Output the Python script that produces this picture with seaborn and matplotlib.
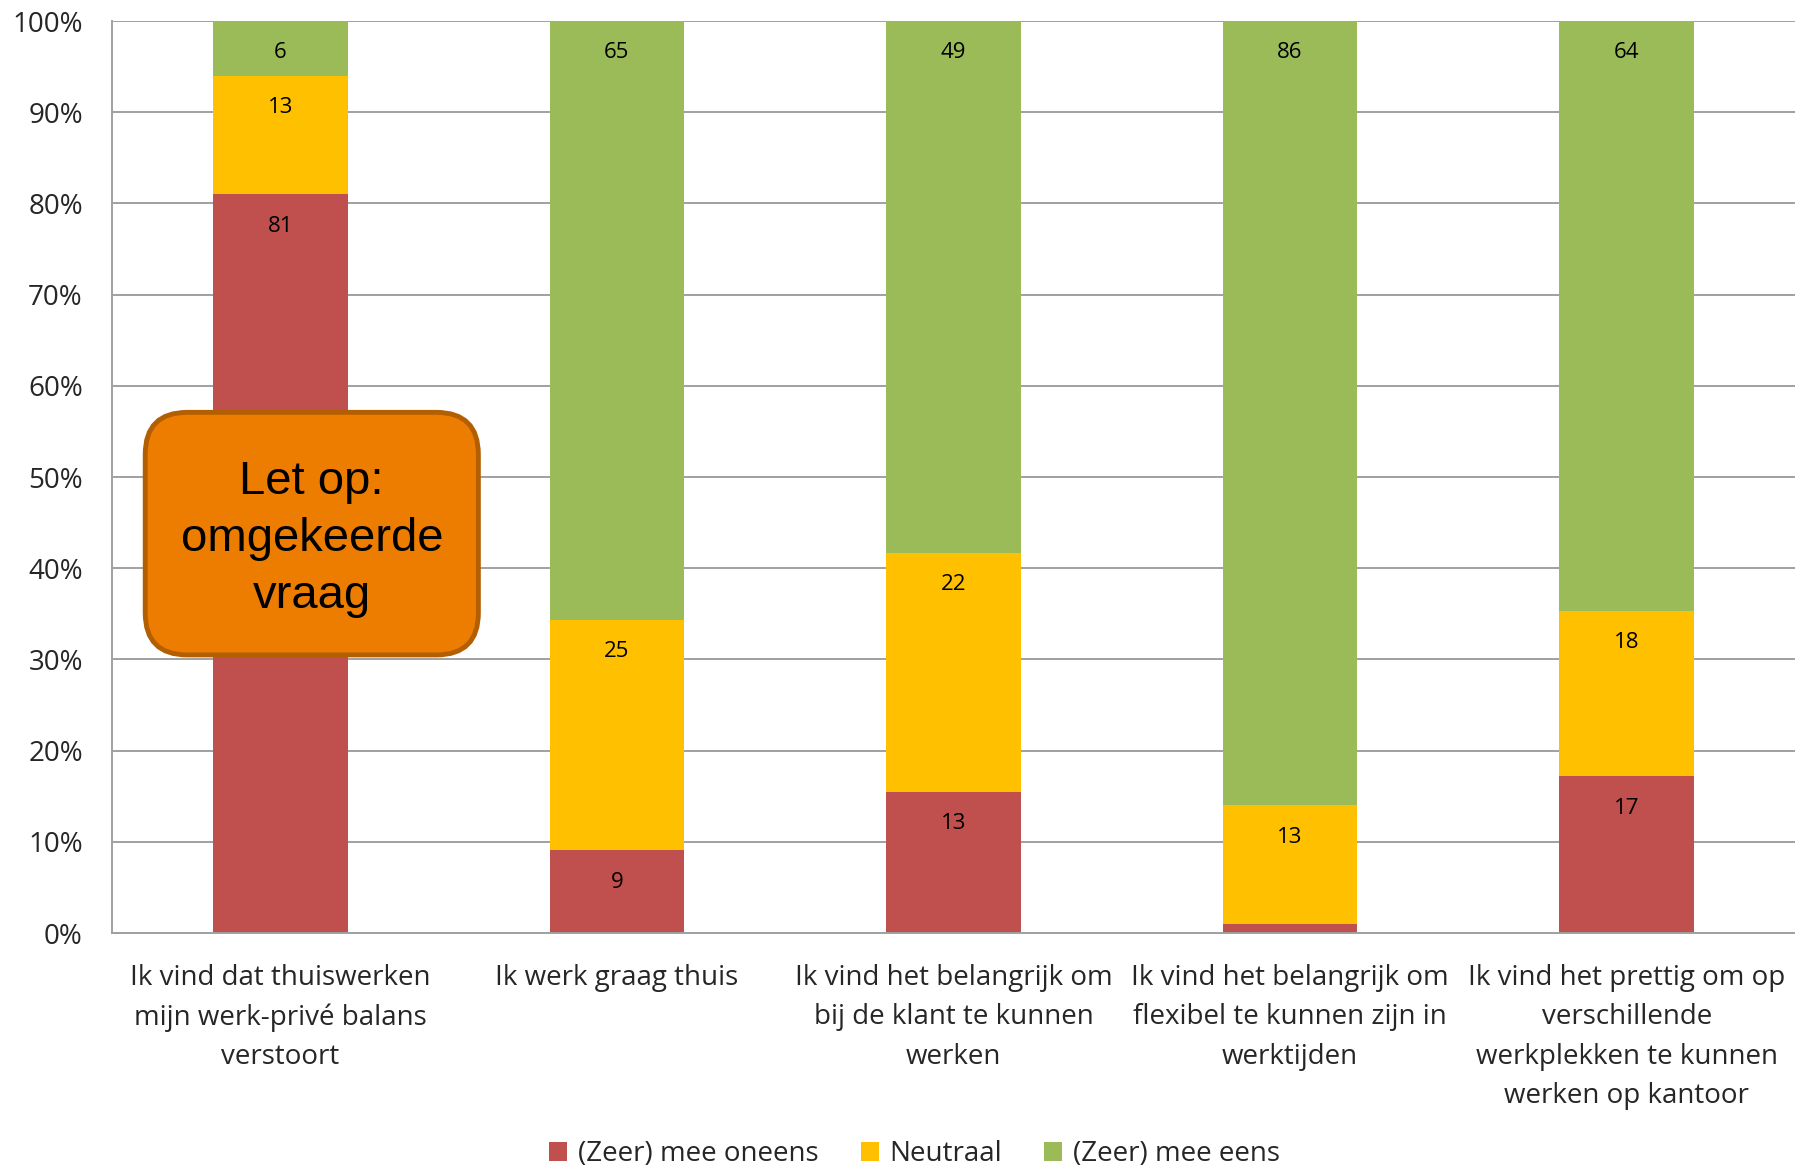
import numpy as np
import pandas as pd
import matplotlib
matplotlib.use("Agg")
import matplotlib.pyplot as plt
import seaborn as sns
from matplotlib.patches import FancyBboxPatch, Patch
from matplotlib.ticker import PercentFormatter, FixedLocator

categories = [
    "Ik vind dat thuiswerken\nmijn werk-privé balans\nverstoort",
    "Ik werk graag thuis",
    "Ik vind het belangrijk om\nbij de klant te kunnen\nwerken",
    "Ik vind het belangrijk om\nflexibel te kunnen zijn in\nwerktijden",
    "Ik vind het prettig om op\nverschillende\nwerkplekken te kunnen\nwerken op kantoor",
]
oneens = [81, 9, 13, 1, 17]
neutraal = [13, 25, 22, 13, 18]
eens = [6, 65, 49, 86, 64]
series_names = ["(Zeer) mee oneens", "Neutraal", "(Zeer) mee eens"]
colors = ["#C0504D", "#FFC000", "#9BBB59"]

sns.set_theme(style="white")
plt.rcParams["font.family"] = ["Open Sans", "DejaVu Sans"]

vals = np.array([oneens, neutraal, eens], dtype=float)
totals = vals.sum(axis=0)
pct = vals / totals * 100
cum = np.cumsum(pct, axis=0)

fig = plt.figure(figsize=(17.95, 11.69), dpi=100)
ax = fig.add_axes([112 / 1795, 1 - 933 / 1169, 1 - 112 / 1795, (933 - 21) / 1169])

x_idx = list(range(len(categories)))
for k in [2, 1, 0]:
    df = pd.DataFrame({"x": x_idx, "y": cum[k]})
    sns.barplot(data=df, x="x", y="y", color=colors[k], width=0.4, ax=ax,
                saturation=1, edgecolor="none", linewidth=0, zorder=2)

for k in range(3):
    for i in x_idx:
        if vals[k, i] >= 5:
            ax.annotate(f"{int(vals[k, i])}", xy=(i, cum[k, i]), xytext=(0, -23),
                        textcoords="offset points", ha="center", va="center",
                        fontsize=16, color="#000000", zorder=4)

ax.set_xlim(-0.5, 4.5)
ax.set_ylim(0, 100)
ax.yaxis.set_major_locator(FixedLocator(np.arange(0, 101, 10)))
ax.yaxis.set_major_formatter(PercentFormatter(decimals=0))
ax.grid(axis="y", color="#A0A0A0", linewidth=1.4, zorder=0)
ax.set_axisbelow(True)
ax.set_xlabel("")
ax.set_ylabel("")
ax.set_xticks(x_idx)
ax.set_xticklabels(categories, fontsize=20, linespacing=1.55)
ax.set_xticks(np.arange(-0.5, 4.6, 1), minor=True)
ax.tick_params(axis="x", which="major", length=0, pad=22)
ax.tick_params(axis="x", which="minor", length=9, width=1.4, color="#A0A0A0", direction="out")
ax.tick_params(axis="y", length=9, width=1.4, color="#A0A0A0", direction="out", labelsize=20, pad=12)
for s in ["top", "right"]:
    ax.spines[s].set_visible(False)
for s in ["left", "bottom"]:
    ax.spines[s].set_color("#A0A0A0")
    ax.spines[s].set_linewidth(1.4)

box_x0, box_x1 = -0.5 + (127 - 98) / 294, -0.5 + (418 - 98) / 294
box_y0, box_y1 = (815 - 572) / 797 * 100, (815 - 360) / 797 * 100
box = FancyBboxPatch((box_x0, box_y0), box_x1 - box_x0, box_y1 - box_y0,
                     boxstyle="round,pad=0,rounding_size=0.125",
                     mutation_aspect=100 / 797 * 294 / 1.0,
                     facecolor="#ED7D00", edgecolor="#B35E00", linewidth=3.5, zorder=5)
ax.add_patch(box)
ax.text((box_x0 + box_x1) / 2, (box_y0 + box_y1) / 2 - 0.6, "Let op:\nomgekeerde\nvraag",
        ha="center", va="center", fontsize=34, family=["Liberation Sans", "DejaVu Sans"],
        linespacing=1.38, zorder=6, color="#000000")

handles = [Patch(facecolor=c, edgecolor="none") for c in colors]
fig.legend(handles, series_names, loc="center", bbox_to_anchor=(799 / 1568, 1 - 1154 / 1169),
           ncol=3, frameon=False, fontsize=20, handlelength=0.65, handleheight=0.65,
           columnspacing=1.5, handletextpad=0.4)

fig.savefig("out.png", dpi=100)
